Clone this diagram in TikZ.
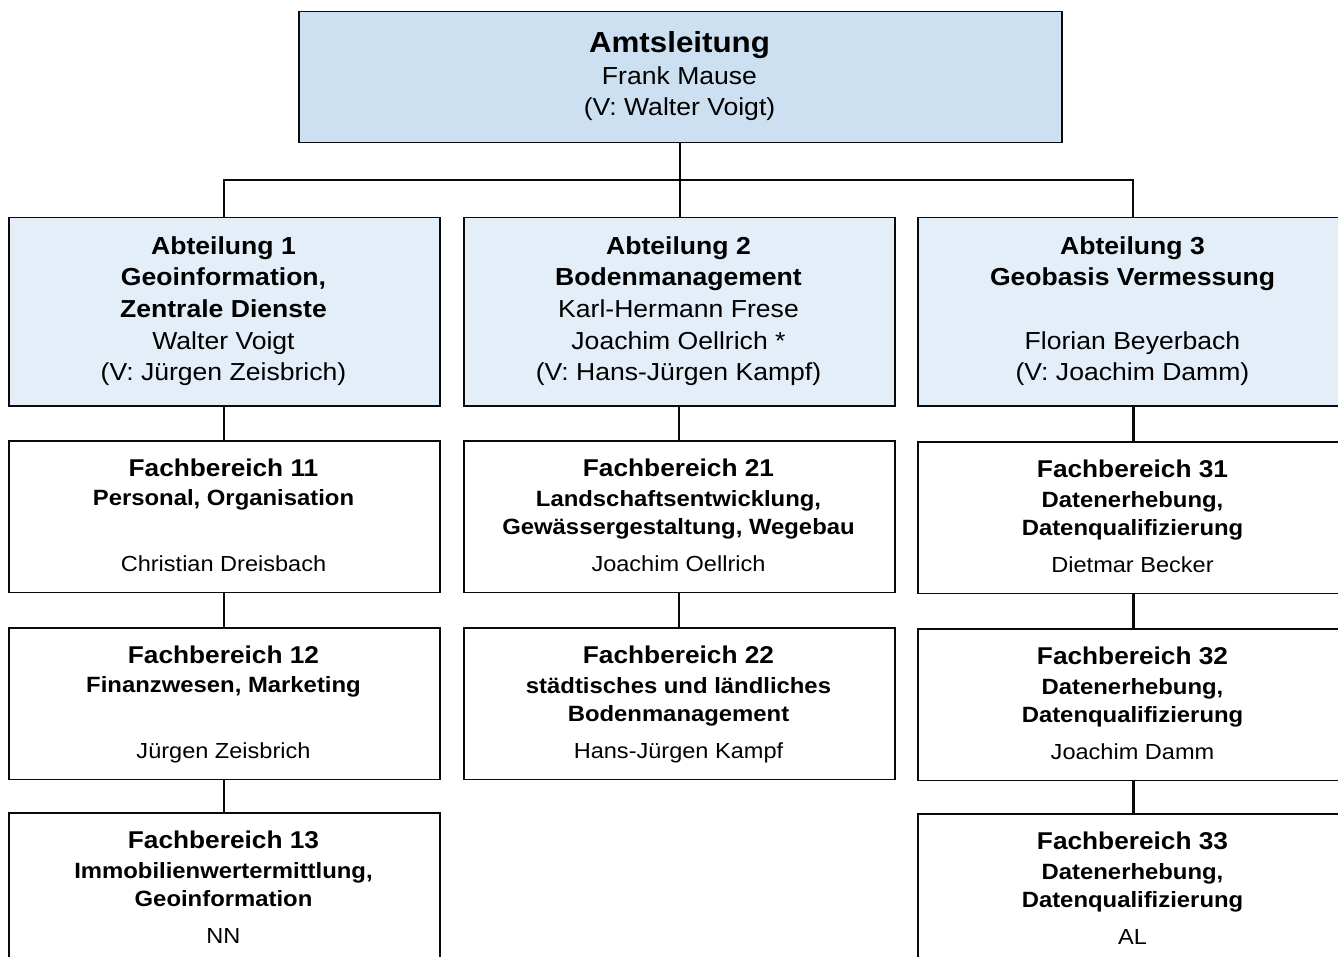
\documentclass[tikz,border=0pt]{standalone}
\usepackage{fontspec}
\setmainfont[FakeStretch=1.08]{Liberation Sans}
\definecolor{topfill}{RGB}{204,224,241}
\definecolor{abtfill}{RGB}{227,238,248}
\definecolor{linecol}{RGB}{10,10,10}
\tikzset{
  box/.style={draw=linecol, line width=1.5pt, inner sep=0pt, anchor=north west, minimum width=431pt},
  abtbox/.style={box, fill=abtfill, minimum height=188pt},
  fbbox/.style={box, fill=white, minimum height=151.5pt},
  conn/.style={draw=linecol, line width=1.6pt},
  thickconn/.style={draw=linecol, line width=2.8pt},
  txtbase/.style={anchor=base, inner sep=0pt},
  amtb/.style={txtbase, font=\bfseries\fontsize{29}{32}\selectfont},
  amtr/.style={txtbase, font=\fontsize{24.6}{30}\selectfont},
  abtb/.style={txtbase, font=\bfseries\fontsize{24.6}{30}\selectfont},
  abtr/.style={txtbase, font=\fontsize{24.6}{30}\selectfont},
  fbttl/.style={txtbase, font=\bfseries\fontsize{24.3}{28}\selectfont},
  fbsub/.style={txtbase, font=\bfseries\fontsize{22.1}{26}\selectfont},
  fbper/.style={txtbase, font=\fontsize{21.8}{26}\selectfont},
}
% one subtitle line: name, x centre, box top, title, subtitle, person
\newcommand\fbone[6]{%
  \node[fbttl] (#1t) at (#2,#3+36) {#4};
  \node[fbsub] (#1s) at (#2,#3+65.7) {#5};
  \node[fbper] (#1p) at (#2,#3+131) {#6};
}
% two subtitle lines
\newcommand\fbtwo[7]{%
  \node[fbttl] (#1t) at (#2,#3+36.7) {#4};
  \node[fbsub] (#1s) at (#2,#3+66) {#5};
  \node[fbsub] (#1u) at (#2,#3+94.8) {#6};
  \node[fbper] (#1p) at (#2,#3+131.5) {#7};
}
\begin{document}
\begin{tikzpicture}[x=1pt,y=-1pt]
\useasboundingbox (0,0) rectangle (1338,957);
\clip (0,0) rectangle (1338,957);
\fill[white] (0,0) rectangle (1338,957);

% boxes
\node[box, fill=topfill, minimum width=763pt, minimum height=131pt] (amt) at (298,11) {};
\node[abtbox] (a1) at (8,217) {};
\node[abtbox] (a2) at (463,217) {};
\node[abtbox] (a3) at (917,217) {};
\node[fbbox] (fb11) at (8,440) {};
\node[fbbox] (fb12) at (8,627) {};
\node[fbbox] (fb13) at (8,812) {};
\node[fbbox] (fb21) at (463,440) {};
\node[fbbox] (fb22) at (463,627) {};
\node[fbbox] (fb31) at (917,441) {};
\node[fbbox] (fb32) at (917,628) {};
\node[fbbox] (fb33) at (917,813) {};

% connectors
\coordinate (bus) at (amt.south |- 0,180);
\draw[conn] (amt.south) -- (bus);
\draw[conn] (bus) -| (a1.north);
\draw[conn] (bus) -| (a3.north);
\draw[conn] (bus) -- (bus |- a2.north);
\draw[conn] (a1.south) -- (fb11.north);
\draw[conn] (fb11.south) -- (fb12.north);
\draw[conn] (fb12.south) -- (fb13.north);
\draw[conn] (a2.south) -- (fb21.north);
\draw[conn] (fb21.south) -- (fb22.north);
\draw[thickconn] (a3.south) -- (fb31.north);
\draw[thickconn] (fb31.south) -- (fb32.north);
\draw[thickconn] (fb32.south) -- (fb33.north);

% top text
\node[amtb] (amt1) at (679.5,52.5) {Amtsleitung};
\node[amtr] (amt2) at (679.5,85) {Frank Mause};
\node[amtr] (amt3) at (679.5,116) {(V: Walter Voigt)};

% Abteilung 1
\node[abtb] (a1l1) at (223.5,254.3) {Abteilung 1};
\node[abtb] (a1l2) at (223.5,286) {Geoinformation,};
\node[abtb] (a1l3) at (223.5,317.5) {Zentrale Dienste};
\node[abtr] (a1l4) at (223.5,349.3) {Walter Voigt};
\node[abtr] (a1l5) at (223.5,380.7) {(V: Jürgen Zeisbrich)};
% Abteilung 2
\node[abtb] (a2l1) at (678.5,254.3) {Abteilung 2};
\node[abtb] (a2l2) at (678.5,286) {Bodenmanagement};
\node[abtr] (a2l3) at (678.5,317.5) {Karl-Hermann Frese};
\node[abtr] (a2l4) at (678.5,349.3) {Joachim Oellrich *};
\node[abtr] (a2l5) at (678.5,380.7) {(V: Hans-Jürgen Kampf)};
% Abteilung 3
\node[abtb] (a3l1) at (1132.5,254.3) {Abteilung 3};
\node[abtb] (a3l2) at (1132.5,286) {Geobasis Vermessung};
\node[abtr] (a3l4) at (1132.5,349.3) {Florian Beyerbach};
\node[abtr] (a3l5) at (1132.5,380.7) {(V: Joachim Damm)};

% Fachbereiche
\fbone{f11}{223.5}{440}{Fachbereich 11}{Personal, Organisation}{Christian Dreisbach}
\fbone{f12}{223.5}{627}{Fachbereich 12}{Finanzwesen, Marketing}{Jürgen Zeisbrich}
\fbtwo{f13}{223.5}{812}{Fachbereich 13}{Immobilienwertermittlung,}{Geoinformation}{NN}
\fbtwo{f21}{678.5}{440}{Fachbereich 21}{Landschaftsentwicklung,}{Gewässergestaltung, Wegebau}{Joachim Oellrich}
\fbtwo{f22}{678.5}{627}{Fachbereich 22}{städtisches und ländliches}{Bodenmanagement}{Hans-Jürgen Kampf}
\fbtwo{f31}{1132.5}{441}{Fachbereich 31}{Datenerhebung,}{Datenqualifizierung}{Dietmar Becker}
\fbtwo{f32}{1132.5}{628}{Fachbereich 32}{Datenerhebung,}{Datenqualifizierung}{Joachim Damm}
\fbtwo{f33}{1132.5}{813}{Fachbereich 33}{Datenerhebung,}{Datenqualifizierung}{AL}
\end{tikzpicture}
\end{document}
